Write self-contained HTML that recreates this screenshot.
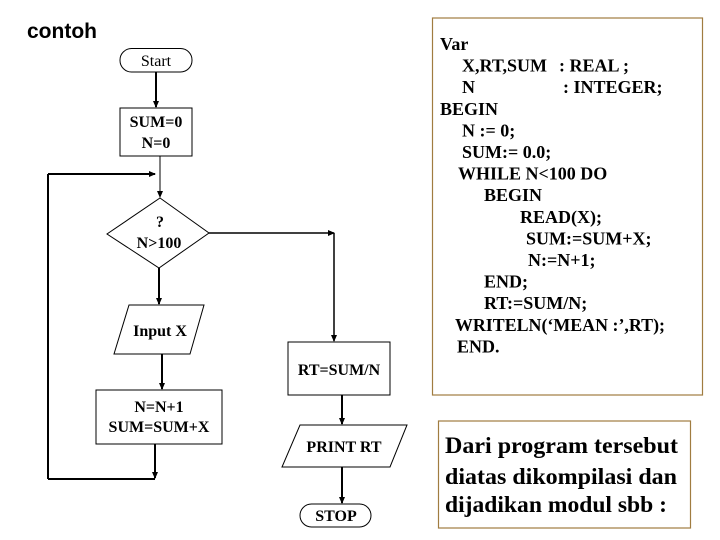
<!DOCTYPE html>
<html><head><style>
html,body{margin:0;padding:0;background:#fff;}
svg{display:block;}
.t{font-family:"Liberation Serif",serif;font-weight:bold;fill:#000;}
</style></head><body>
<svg width="720" height="540" viewBox="0 0 720 540" xmlns="http://www.w3.org/2000/svg">
<defs>
<marker id="a" markerWidth="8" markerHeight="8" refX="6" refY="4" orient="auto" markerUnits="userSpaceOnUse">
<path d="M0,1 L7,4 L0,7 Z" fill="#000"/></marker>
</defs>
<text x="27" y="38" font-family="Liberation Sans, sans-serif" font-weight="bold" font-size="21" fill="#000">contoh</text>

<g stroke="#000" fill="none">
<rect x="120" y="48.5" width="72" height="23.5" rx="11.5" stroke-width="1"/>
<rect x="120" y="108" width="72" height="48" stroke-width="1"/>
<polygon points="160,198 209,233 159,268 107,234" stroke-width="1"/>
<polygon points="129,305 204,305 190,354 114,354" stroke-width="1"/>
<rect x="96" y="390" width="126" height="54" stroke-width="1"/>
<rect x="288" y="342" width="102" height="53" stroke-width="1"/>
<polygon points="300,425 407,425 390,467 282,467" stroke-width="1"/>
<rect x="300" y="504" width="71" height="23" rx="11.5" stroke-width="1"/>

<line x1="156" y1="72" x2="156" y2="107" stroke-width="2" marker-end="url(#a)"/>
<line x1="160" y1="156" x2="160" y2="197" stroke-width="1" marker-end="url(#a)"/>
<line x1="48" y1="174" x2="155" y2="174" stroke-width="2" marker-end="url(#a)"/>
<line x1="48" y1="174" x2="48" y2="479" stroke-width="2"/>
<line x1="48" y1="479" x2="155" y2="479" stroke-width="2"/>
<line x1="155" y1="444" x2="155" y2="478" stroke-width="2" marker-end="url(#a)"/>
<line x1="159" y1="268" x2="159" y2="304" stroke-width="2" marker-end="url(#a)"/>
<line x1="162" y1="354" x2="162" y2="389" stroke-width="2" marker-end="url(#a)"/>
<line x1="209" y1="233" x2="334" y2="233" stroke-width="1.5" marker-end="url(#a)"/>
<line x1="334" y1="233" x2="334" y2="341" stroke-width="1.5" marker-end="url(#a)"/>
<line x1="342" y1="395" x2="342" y2="424" stroke-width="2" marker-end="url(#a)"/>
<line x1="342" y1="467" x2="342" y2="503" stroke-width="2" marker-end="url(#a)"/>
</g>

<g class="t" font-size="16" text-anchor="middle">
<text x="156" y="66" font-weight="normal">Start</text>
<text x="156" y="127">SUM=0</text>
<text x="156" y="148">N=0</text>
<text x="160" y="227">?</text>
<text x="159" y="248">N&gt;100</text>
<text x="160" y="336">Input X</text>
<text x="159" y="412">N=N+1</text>
<text x="159" y="432">SUM=SUM+X</text>
<text x="339" y="375">RT=SUM/N</text>
<text x="344" y="452">PRINT RT</text>
<text x="336" y="521">STOP</text>
</g>

<rect x="432.5" y="18" width="270" height="377" fill="none" stroke="#a07c40" stroke-width="1.2"/>
<g class="t" font-size="18">
<text x="440" y="50">Var</text>
<text x="462" y="71.6">X,RT,SUM</text><text x="559" y="71.6">: REAL ;</text>
<text x="462" y="93.2">N</text><text x="563" y="93.2">: INTEGER;</text>
<text x="440" y="114.8">BEGIN</text>
<text x="462" y="136.4">N := 0;</text>
<text x="462" y="158">SUM:= 0.0;</text>
<text x="458" y="179.6">WHILE N&lt;100 DO</text>
<text x="484" y="201.2">BEGIN</text>
<text x="520" y="222.8">READ(X);</text>
<text x="526" y="244.4">SUM:=SUM+X;</text>
<text x="528" y="266">N:=N+1;</text>
<text x="484" y="287.6">END;</text>
<text x="484" y="309.2">RT:=SUM/N;</text>
<text x="455" y="330.8" textLength="210" lengthAdjust="spacingAndGlyphs">WRITELN(‘MEAN :’,RT);</text>
<text x="457" y="352.4">END.</text>
</g>

<rect x="438.5" y="421" width="252" height="107" fill="none" stroke="#a07c40" stroke-width="1.2"/>
<g class="t" font-size="23">
<text x="445" y="453" textLength="233" lengthAdjust="spacingAndGlyphs">Dari program tersebut</text>
<text x="445" y="484" textLength="232" lengthAdjust="spacingAndGlyphs">diatas dikompilasi dan</text>
<text x="445" y="512" textLength="222" lengthAdjust="spacingAndGlyphs">dijadikan modul sbb :</text>
</g>
</svg>
</body></html>
